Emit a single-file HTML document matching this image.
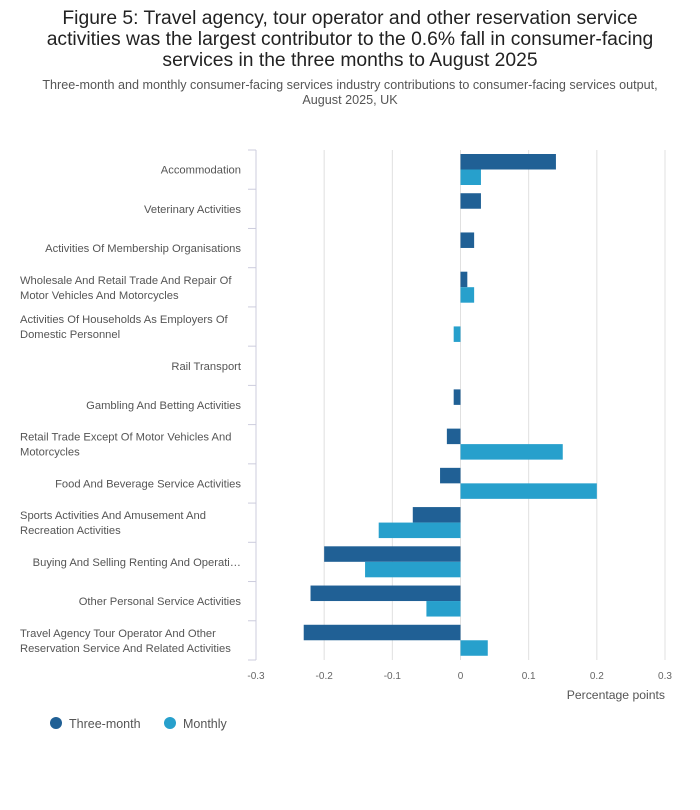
<!DOCTYPE html>
<html><head><meta charset="utf-8"><style>
body{margin:0;background:#fff;font-family:"Liberation Sans",sans-serif;}
#wrap{position:relative;width:700px;height:810px;}
h1{position:absolute;top:8px;left:0;width:700px;margin:0;text-align:center;font-weight:normal;font-size:19.3px;line-height:21px;color:#222;}
#sub{position:absolute;top:78px;left:0;width:700px;text-align:center;font-size:12.6px;line-height:15px;color:#555;}
svg text{font-family:"Liberation Sans",sans-serif;}
</style></head><body>
<div id="wrap">
<h1>Figure 5: Travel agency, tour operator and other reservation service<br>activities was the largest contributor to the 0.6% fall in consumer-facing<br>services in the three months to August 2025</h1>
<div id="sub">Three-month and monthly consumer-facing services industry contributions to consumer-facing services output,<br>August 2025, UK</div>
<svg id="chart" width="700" height="810" style="position:absolute;top:0;left:0"></svg>
</div>
<script>
const categories=[["Accommodation"],["Veterinary Activities"],["Activities Of Membership Organisations"],["Wholesale And Retail Trade And Repair Of","Motor Vehicles And Motorcycles"],["Activities Of Households As Employers Of","Domestic Personnel"],["Rail Transport"],["Gambling And Betting Activities"],["Retail Trade Except Of Motor Vehicles And","Motorcycles"],["Food And Beverage Service Activities"],["Sports Activities And Amusement And","Recreation Activities"],["Buying And Selling Renting And Operati…"],["Other Personal Service Activities"],["Travel Agency Tour Operator And Other","Reservation Service And Related Activities"]];
const threeMonth=[0.14,0.03,0.02,0.01,0,0,-0.01,-0.02,-0.03,-0.07,-0.2,-0.22,-0.23];
const monthly=[0.03,0,0,0.02,-0.01,0,0,0.15,0.2,-0.12,-0.14,-0.05,0.04];
const ticks=[-0.3,-0.2,-0.1,0,0.1,0.2,0.3];
const tickLabels=["-0.3","-0.2","-0.1","0","0.1","0.2","0.3"];
const svg=document.getElementById('chart');const NS='http://www.w3.org/2000/svg';
function mk(t,a,p){const e=document.createElementNS(NS,t);for(const k in a)e.setAttribute(k,a[k]);(p||svg).appendChild(e);return e;}
const x0=256,x1=665,yT=150,yB=660;
const xs=v=>x0+(v+0.3)/0.6*(x1-x0);
const band=(yB-yT)/categories.length;
ticks.forEach((t,i)=>{
 const g=mk('line',{x1:xs(t),x2:xs(t),y1:yT,y2:yB,stroke:'#e0e0e0','stroke-width':1});
 
 const l=mk('text',{x:xs(t),y:679,'text-anchor':'middle','font-size':10,fill:'#666'});l.textContent=tickLabels[i];
 
});
const ax=mk('line',{x1:x0,x2:x0,y1:yT,y2:yB,stroke:'#ccd',"stroke-width":1});

for(let i=0;i<=categories.length;i++){const y=yT+i*band;const t=mk('line',{x1:248,x2:x0,y1:y,y2:y,stroke:'#ccd'});}
categories.forEach((c,i)=>{
 const cy=yT+i*band+band/2;
 const tx=mk('text',{'font-size':11.2,fill:'#555','text-anchor':c.length>1?'start':'end'});
 
 if(c.length>1){c.forEach((s,j)=>{const ts=mk('tspan',{x:20,y:cy-3.5+j*15},tx);ts.textContent=s;});}
 else{const ts=mk('tspan',{x:241,y:cy+4},tx);ts.textContent=c[0];}
 const bh=15.5,by=yT+i*band+4;
 const a=mk('rect',{x:Math.min(xs(0),xs(threeMonth[i])),y:by,width:Math.abs(xs(threeMonth[i])-xs(0)),height:bh,fill:'#206095'});
 
 const b=mk('rect',{x:Math.min(xs(0),xs(monthly[i])),y:by+bh,width:Math.abs(xs(monthly[i])-xs(0)),height:bh,fill:'#27a0cc'});
 
});
const at=mk('text',{x:665,y:699,'text-anchor':'end','font-size':12.2,fill:'#555'});at.textContent='Percentage points';

[[56,'Three-month','#206095'],[170,'Monthly','#27a0cc']].forEach(([x,l,c])=>{
 const g=mk('g',{});
 mk('circle',{cx:x,cy:723,r:6,fill:c},g);
 const t=mk('text',{x:x+13,y:728,'font-size':12.5,fill:'#555'},g);t.textContent=l;
});
</script>
</body></html>
